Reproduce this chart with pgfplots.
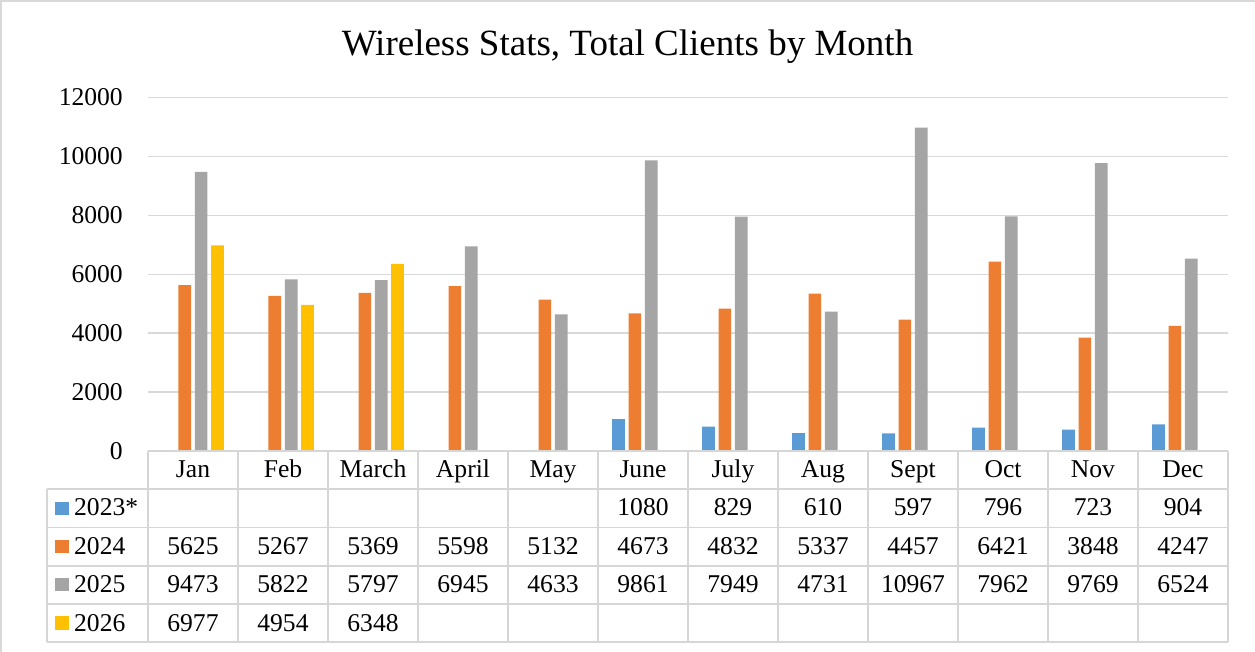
\documentclass[border=0pt]{standalone}
\usepackage{pgfplots}
\pgfplotsset{compat=1.18}
\usepackage{pgfplotstable}
\usepackage{fontspec}
\setmainfont{Liberation Serif}
\definecolor{cA}{HTML}{5B9BD5}
\definecolor{cB}{HTML}{ED7D31}
\definecolor{cC}{HTML}{A5A5A5}
\definecolor{cD}{HTML}{FFC000}
\definecolor{gridc}{HTML}{D9D9D9}
\definecolor{tabc}{HTML}{D6D6D6}

\pgfplotstableread{
x y
5 1080
6 829
7 610
8 597
9 796
10 723
11 904
}\tblA
\pgfplotstableread{
x y
0 5625
1 5267
2 5369
3 5598
4 5132
5 4673
6 4832
7 5337
8 4457
9 6421
10 3848
11 4247
}\tblB
\pgfplotstableread{
x y
0 9473
1 5822
2 5797
3 6945
4 4633
5 9861
6 7949
7 4731
8 10967
9 7962
10 9769
11 6524
}\tblC
\pgfplotstableread{
x y
0 6977
1 4954
2 6348
}\tblD

\begin{document}
\begin{tikzpicture}[x=1pt,y=1pt]
\path[use as bounding box] (-148,-200) rectangle (1107,451);
\draw[gridc, line width=2pt] (-146.5,-201) -- (-146.5,449.5) -- (1108,449.5);
\node[anchor=base, font=\fontsize{37}{44}\selectfont] at (479.5,395) {Wireless Stats, Total Clients by Month};
\begin{axis}[
  at={(0,0)}, anchor=south west, scale only axis,
  width=1080pt, height=353.7pt,
  xmin=-0.5, xmax=11.5, ymin=0, ymax=12000,
  clip=false,
  axis line style={draw=none},
  ymajorgrids, grid style={gridc, line width=1.3pt},
  ytick={0,2000,4000,6000,8000,10000,12000},
  xtick={0,...,11},
  xticklabels={Jan,Feb,March,April,May,June,July,Aug,Sept,Oct,Nov,Dec},
  major tick length=0pt, tick style={draw=none},
  scaled y ticks=false,
  font=\fontsize{25.6}{30}\selectfont,
  yticklabel style={anchor=east, inner sep=0pt, xshift=-25pt},
  xticklabel style={anchor=base, inner sep=0pt, yshift=-26.5pt},
  /pgf/number format/fixed,
  /pgf/number format/1000 sep={},
  /pgf/number format/assume math mode=true,
]
\addplot[ybar, bar width=12.7pt, bar shift=-24.45pt, fill=cA, draw=none] table[x=x,y=y]{\tblA};
\addplot[ybar, bar width=12.7pt, bar shift=-8.15pt, fill=cB, draw=none] table[x=x,y=y]{\tblB};
\addplot[ybar, bar width=12.7pt, bar shift=8.15pt, fill=cC, draw=none] table[x=x,y=y]{\tblC};
\addplot[ybar, bar width=12.7pt, bar shift=24.45pt, fill=cD, draw=none] table[x=x,y=y]{\tblD};

\addplot[draw=none, mark=none, point meta=explicit, nodes near coords,
  nodes near coords style={anchor=base, inner sep=0pt, text=black, yshift=-64.8pt}]
  table[x=x, y expr=0, meta=y]{\tblA};
\addplot[draw=none, mark=none, point meta=explicit, nodes near coords,
  nodes near coords style={anchor=base, inner sep=0pt, text=black, yshift=-103.3pt}]
  table[x=x, y expr=0, meta=y]{\tblB};
\addplot[draw=none, mark=none, point meta=explicit, nodes near coords,
  nodes near coords style={anchor=base, inner sep=0pt, text=black, yshift=-141.7pt}]
  table[x=x, y expr=0, meta=y]{\tblC};
\addplot[draw=none, mark=none, point meta=explicit, nodes near coords,
  nodes near coords style={anchor=base, inner sep=0pt, text=black, yshift=-180.1pt}]
  table[x=x, y expr=0, meta=y]{\tblD};
\end{axis}
% data table grid
\begin{scope}[tabc, line width=1.8pt]
\draw (0,0) -- (1080,0);
\foreach \yy in {-38.2,-76.4,-114.6,-152.8,-191} \draw (-101,\yy) -- (1080,\yy);
\draw (-101,-38.2) -- (-101,-191);
\foreach \k in {0,...,12} \draw (\k*90,0) -- (\k*90,-191);
\end{scope}
% legend keys
\begin{scope}[font=\fontsize{25.6}{30}\selectfont]
\fill[cA] (-93,-64) rectangle (-79,-50.6);
\node[anchor=base west, inner sep=0pt] at (-74,-64.8) {2023*};
\fill[cB] (-93,-102.2) rectangle (-79,-88.8);
\node[anchor=base west, inner sep=0pt] at (-74,-103.3) {2024};
\fill[cC] (-93,-140.4) rectangle (-79,-127);
\node[anchor=base west, inner sep=0pt] at (-74,-141.7) {2025};
\fill[cD] (-93,-178.6) rectangle (-79,-165.2);
\node[anchor=base west, inner sep=0pt] at (-74,-180.1) {2026};
\end{scope}
\end{tikzpicture}
\end{document}
